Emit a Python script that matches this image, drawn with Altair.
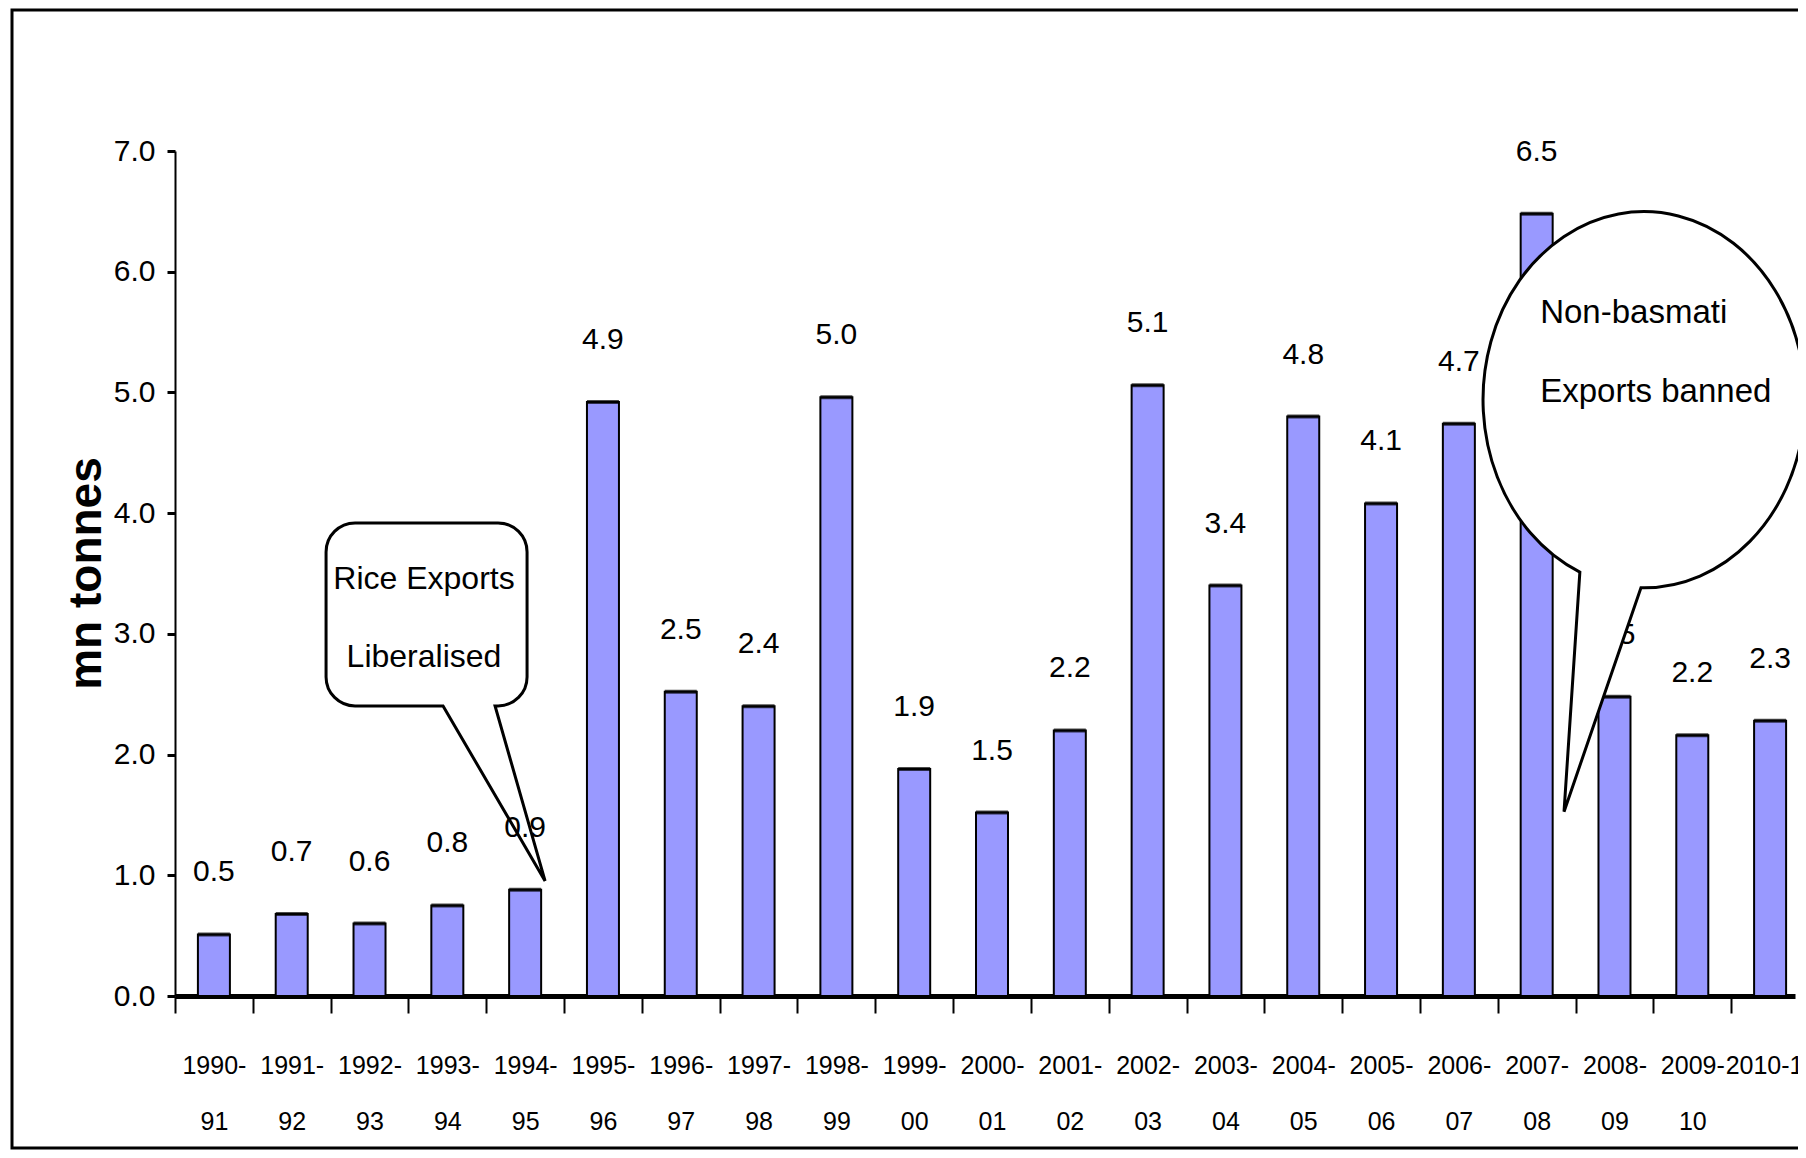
import json
import math
import altair as alt
import pandas as pd

# ---------------- data ----------------
years = ["1990-91", "1991-92", "1992-93", "1993-94", "1994-95", "1995-96", "1996-97",
         "1997-98", "1998-99", "1999-00", "2000-01", "2001-02", "2002-03", "2003-04",
         "2004-05", "2005-06", "2006-07", "2007-08", "2008-09", "2009-10", "2010-11"]
exports = [0.51, 0.68, 0.60, 0.75, 0.88, 4.92, 2.52, 2.40, 4.96, 1.88, 1.52, 2.20,
           5.06, 3.40, 4.80, 4.08, 4.74, 6.48, 2.48, 2.16, 2.28]
value_labels = ["0.5", "0.7", "0.6", "0.8", "0.9", "4.9", "2.5", "2.4", "5.0", "1.9", "1.5",
                "2.2", "5.1", "3.4", "4.8", "4.1", "4.7", "6.5", "2.5", "2.2", "2.3"]
y_ticks = [0, 1, 2, 3, 4, 5, 6, 7]

# annotations (x in category slots, y in mn tonnes)
rice_bubble_x = [3.233]
rice_bubble_y = [3.161]
rice_text = ["Rice Exports", "Liberalised"]
rice_text_x = [3.20, 3.20]
rice_text_y = [3.455, 2.81]

ban_bubble_x = [18.88]
ban_bubble_y = [4.94]
ban_text = ["Non-basmati", "Exports banned"]
ban_text_x = [17.545, 17.545]
ban_text_y = [5.66, 5.00]

# ---------------- layout / style ----------------
N = len(years)
slot_center = [i + 0.5 for i in range(N)]          # category slot centres
axis_values = [i * 0.5 for i in range(2 * N)]      # slot boundaries (ticks) + centres (labels)
label_lines = [[y] if y == "2010-11" else [y[:5], y[5:]] for y in years]

PLOT_W = 1620
PLOT_H = 845
X_VISIBLE = 20.82          # slots visible in the plot width (last slot runs off the edge)
FONT = "Liberation Sans, Arial, sans-serif"
BAR_COLOR = "#9999FF"

RICE_SHAPE = ("M -0.715 -0.915 L 0.715 -0.915 C 0.875 -0.915 1.005 -0.785 1.005 -0.625 "
              "L 1.005 0.625 C 1.005 0.785 0.875 0.915 0.715 0.915 L 0.685 0.915 "
              "L 1.185 2.665 L 0.165 0.915 L -0.715 0.915 "
              "C -0.875 0.915 -1.005 0.785 -1.005 0.625 L -1.005 -0.625 "
              "C -1.005 -0.785 -0.875 -0.915 -0.715 -0.915 Z")


def ellipse_bubble(ry, t0, t1, tip, segs=4):
    """speech-bubble outline: elliptical arc (rx=1) from angle t0 to t1 (deg), then tail to tip"""
    a0, a1 = math.radians(t0), math.radians(t1)
    d = (a1 - a0) / segs
    k = 4.0 / 3.0 * math.tan(d / 4)
    pt = lambda a: (math.cos(a), ry * math.sin(a))
    tg = lambda a: (-math.sin(a), ry * math.cos(a))
    p = pt(a0)
    s = f"M {p[0]:.4f} {p[1]:.4f} "
    for i in range(segs):
        b0, b1 = a0 + i * d, a0 + (i + 1) * d
        p0, p3 = pt(b0), pt(b1)
        t0v, t1v = tg(b0), tg(b1)
        c1 = (p0[0] + k * t0v[0], p0[1] + k * t0v[1])
        c2 = (p3[0] - k * t1v[0], p3[1] - k * t1v[1])
        s += f"C {c1[0]:.4f} {c1[1]:.4f} {c2[0]:.4f} {c2[1]:.4f} {p3[0]:.4f} {p3[1]:.4f} "
    s += f"L {tip[0]:.4f} {tip[1]:.4f} Z"
    return s


BAN_SHAPE = ellipse_bubble(1.168, 113.5, 451.1, (-0.497, 2.559))

df = pd.DataFrame({"pos": slot_center, "year": years, "value": exports, "label": value_labels})

xscale = alt.Scale(domain=[0, X_VISIBLE], nice=False, zero=False, padding=0)
yscale = alt.Scale(domain=[0, 7], nice=False, zero=True, padding=0)

yaxis = alt.Axis(values=y_ticks, format=".1f", title="mn tonnes", grid=False)

xaxis = alt.Axis(
    title="",
    values=axis_values,
    labelExpr="datum.value % 1 == 0 ? '' : " + json.dumps(label_lines).replace('"', "'")
              + "[floor(datum.value)]",
    tickOpacity={"condition": {"test": "datum.value % 1 == 0", "value": 1}, "value": 0},
    labelOverlap=False,
    labelAngle=0,
    labelBound=False,
    labelFlush=False,
    grid=False,
)

X = lambda f: alt.X(f, scale=xscale, axis=xaxis, title="")
Y = lambda f: alt.Y(f, scale=yscale, axis=yaxis, title="mn tonnes")

bars = alt.Chart(df).mark_bar(size=32, color=BAR_COLOR, stroke="black", strokeWidth=2).encode(
    x=X("pos:Q"), y=Y("value:Q"))
tops = alt.Chart(df).mark_tick(size=32, thickness=4, color="black", orient="horizontal").encode(
    x=X("pos:Q"), y=Y("value:Q"))

labels = alt.Chart(df).mark_text(font=FONT, fontSize=30, dy=-62, baseline="middle",
                                  align="center", color="black").encode(
    x=X("pos:Q"), y=Y("value:Q"), text="label:N")

rice_b = alt.Chart(pd.DataFrame({"bx": rice_bubble_x, "by": rice_bubble_y})).mark_point(
    shape=RICE_SHAPE, size=40000, filled=True, fill="white", stroke="black",
    strokeWidth=3, opacity=1).encode(x=X("bx:Q"), y=Y("by:Q"))
rice_t = alt.Chart(pd.DataFrame({"tx": rice_text_x, "ty": rice_text_y, "t": rice_text})).mark_text(
    font=FONT, fontSize=32, align="center", baseline="middle", color="black").encode(
    x=X("tx:Q"), y=Y("ty:Q"), text="t:N")

ban_b = alt.Chart(pd.DataFrame({"bx": ban_bubble_x, "by": ban_bubble_y})).mark_point(
    shape=BAN_SHAPE, size=103684, filled=True, fill="white", stroke="black",
    strokeWidth=3, opacity=1).encode(x=X("bx:Q"), y=Y("by:Q"))
ban_t = alt.Chart(pd.DataFrame({"tx": ban_text_x, "ty": ban_text_y, "t": ban_text})).mark_text(
    font=FONT, fontSize=33, align="left", baseline="middle", color="black").encode(
    x=X("tx:Q"), y=Y("ty:Q"), text="t:N")

frame = alt.Chart(pd.DataFrame({"k": [0]})).mark_rect(
    fill="white", fillOpacity=0, stroke="black", strokeWidth=3).encode(
    x=alt.value(-163), x2=alt.value(1700), y=alt.value(-141), y2=alt.value(997))

chart = alt.layer(bars, tops, rice_b, rice_t, labels, ban_b, ban_t, frame).properties(
    width=PLOT_W, height=PLOT_H,
    padding={"left": 167, "top": 143, "right": 3, "bottom": 154},
    autosize=alt.AutoSizeParams(type="none"),
    background="white",
).configure_view(stroke="transparent").configure_axisY(
    domainColor="black", domainWidth=2, tickColor="black", tickWidth=3, tickSize=8,
    labelFont=FONT, labelFontSize=30, labelColor="black", labelPadding=12,
    titleFont=FONT, titleFontSize=46, titleFontWeight="bold", titleColor="black",
    titleX=-89, titleY=422, titleAngle=270, titleAlign="center", titleBaseline="middle",
).configure_axisX(
    domainColor="black", domainWidth=5, tickColor="black", tickWidth=2, tickSize=17,
    labelFont=FONT, labelFontSize=25, labelColor="black", labelPadding=40,
    labelLineHeight=56,
)

chart.save("out.html", embed_options={"renderer": "svg", "actions": False})
